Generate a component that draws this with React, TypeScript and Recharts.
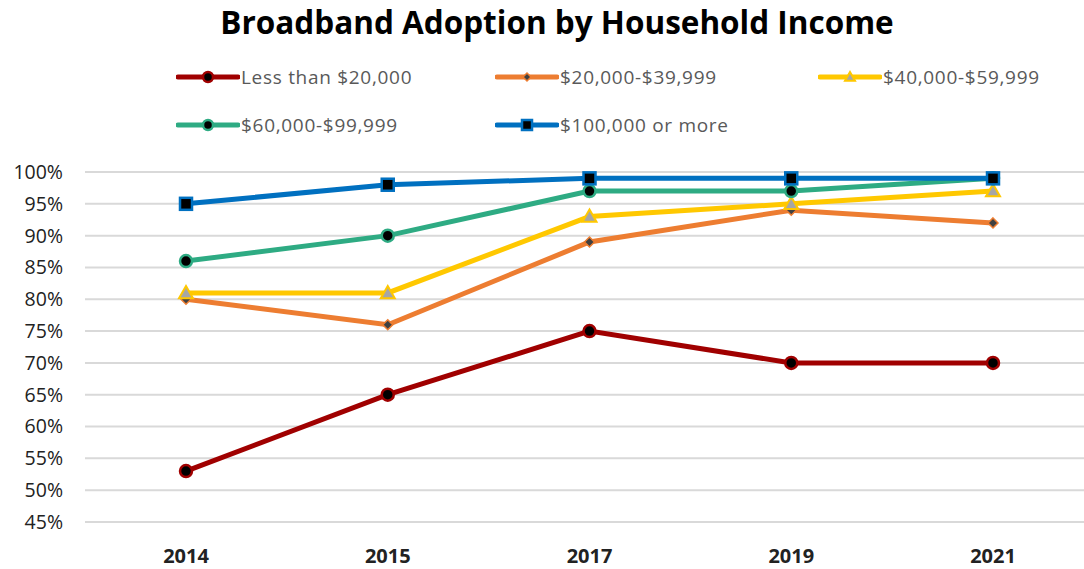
import React from "react"
import { LineChart, Line, XAxis, YAxis, CartesianGrid } from "recharts"

const years = ["2014", "2015", "2017", "2019", "2021"]
const under20k = [53, 65, 75, 70, 70]
const from20to40k = [80, 76, 89, 94, 92]
const from40to60k = [81, 81, 93, 95, 97]
const from60to100k = [86, 90, 97, 97, 99]
const over100k = [95, 98, 99, 99, 99]
const yTicks = [45, 50, 55, 60, 65, 70, 75, 80, 85, 90, 95, 100]

const data = years.map((year, i) => ({
  year,
  a: under20k[i],
  b: from20to40k[i],
  c: from40to60k[i],
  d: from60to100k[i],
  e: over100k[i],
}))

type Shape = "circle" | "diamond" | "triangle" | "square"

const series: { key: string; name: string; color: string; fill: string; shape: Shape; size: number }[] = [
  { key: "a", name: "Less than $20,000", color: "#A00000", fill: "#000000", shape: "circle", size: 6 },
  { key: "b", name: "$20,000-$39,999", color: "#ED7D31", fill: "#404040", shape: "diamond", size: 5 },
  { key: "c", name: "$40,000-$59,999", color: "#FFC800", fill: "#A6A6A6", shape: "triangle", size: 7 },
  { key: "d", name: "$60,000-$99,999", color: "#2EAB83", fill: "#000000", shape: "circle", size: 6 },
  { key: "e", name: "$100,000 or more", color: "#0070C0", fill: "#000000", shape: "square", size: 6 },
]

function Marker({ cx, cy, shape, size, color, fill }: { cx: number; cy: number; shape: Shape; size: number; color: string; fill: string }) {
  if (cx == null || cy == null) return null
  if (shape === "circle") {
    return <circle cx={cx} cy={cy} r={size} fill={fill} stroke={color} strokeWidth={2.5} />
  }
  if (shape === "square") {
    return <rect x={cx - size} y={cy - size} width={size * 2} height={size * 2} fill={fill} stroke={color} strokeWidth={2.5} />
  }
  if (shape === "diamond") {
    const s = size
    return <polygon points={`${cx},${cy - s} ${cx + s},${cy} ${cx},${cy + s} ${cx - s},${cy}`} fill={fill} stroke={color} strokeWidth={1.5} />
  }
  const s = size
  return (
    <polygon
      points={`${cx},${cy - s} ${cx + s},${cy + s * 0.75} ${cx - s},${cy + s * 0.75}`}
      fill={fill}
      stroke={color}
      strokeWidth={2}
    />
  )
}

function LegendItem({ s, left, top }: { s: (typeof series)[number]; left: number; top: number }) {
  return (
    <div style={{ position: "absolute", left, top, display: "flex", alignItems: "center" }}>
      <svg width={64} height={20}>
        <line x1={2} y1={10} x2={62} y2={10} stroke={s.color} strokeWidth={5} strokeLinecap="round" />
        <Marker cx={32} cy={10} shape={s.shape} size={s.shape === "diamond" ? 4 : 5} color={s.color} fill={s.fill} />
      </svg>
      <span style={{ fontFamily: "'Open Sans', sans-serif", fontSize: 19, letterSpacing: 0.7, color: "#595959", marginLeft: 1 }}>
        {s.name}
      </span>
    </div>
  )
}

const legendPos = [
  { left: 176, top: 64 },
  { left: 495, top: 64 },
  { left: 818, top: 64 },
  { left: 176, top: 112 },
  { left: 495, top: 112 },
]

export default function App() {
  return (
    <div style={{ position: "relative", width: 1084, height: 569, background: "#fff", fontFamily: "'Open Sans', sans-serif", overflow: "hidden" }}>
      <style>{"body{margin:0;overflow:hidden}"}</style>
      <div
        style={{
          position: "absolute",
          top: 0,
          left: 0,
          width: 1114,
          textAlign: "center",
          fontFamily: "'Open Sans', sans-serif",
          fontWeight: 700,
          fontSize: 31.5,
          color: "#000",
        }}
      >
        Broadband Adoption by Household Income
      </div>
      {series.map((s, i) => (
        <LegendItem key={s.key} s={s} left={legendPos[i].left} top={legendPos[i].top} />
      ))}
      <LineChart width={1084} height={569} data={data} margin={{ top: 172, right: 0, bottom: 17, left: 5 }}>
        <CartesianGrid vertical={false} stroke="#D9D9D9" strokeWidth={2} />
        <XAxis
          dataKey="year"
          type="category"
          scale="point"
          height={30}
          padding={{ left: 101, right: 91 }}
          axisLine={false}
          tickLine={false}
          tickSize={0}
          tickMargin={27}
          tick={{ fontSize: 20, fontWeight: 700, fill: "#222" }}
        />
        <YAxis
          type="number"
          domain={[45, 100]}
          ticks={yTicks}
          interval={0}
          width={80}
          axisLine={false}
          tickLine={false}
          tickSize={0}
          tickMargin={22}
          tickFormatter={(v: number) => `${v}%`}
          tick={{ fontSize: 19.5, fill: "#222" }}
        />
        {series.map((s) => (
          <Line
            key={s.key}
            dataKey={s.key}
            name={s.name}
            stroke={s.color}
            strokeWidth={5}
            isAnimationActive={false}
            dot={(p: any) => (
              <Marker key={`${s.key}-${p.index}`} cx={p.cx} cy={p.cy} shape={s.shape} size={s.size} color={s.color} fill={s.fill} />
            )}
            activeDot={false}
          />
        ))}
      </LineChart>
    </div>
  )
}
